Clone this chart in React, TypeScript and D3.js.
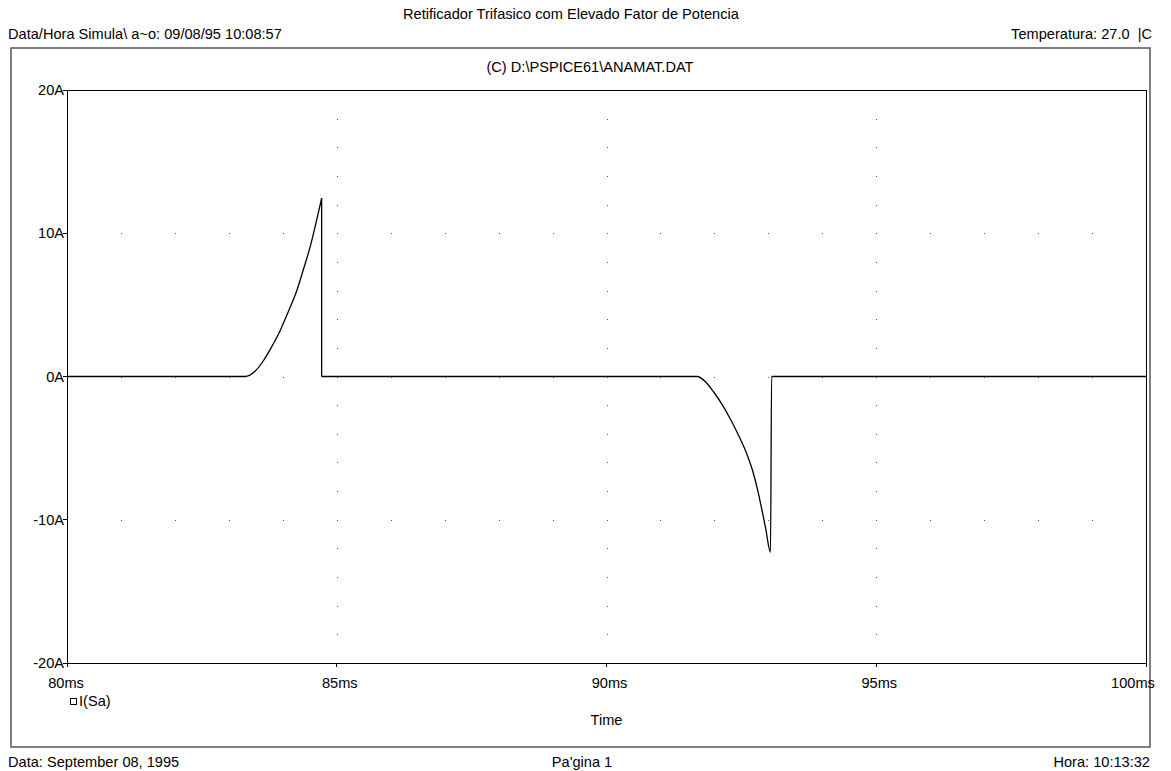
import React from "react";
import * as d3 from "d3";

// PSpice probe trace: I(Sa) vs time
const timeMs = [
  80, 83.3, 83.48, 83.64, 83.79, 83.95, 84.1, 84.26, 84.38, 84.51, 84.62, 84.72, 84.72,
  91.68, 91.83, 91.99, 92.15, 92.3, 92.46, 92.61, 92.71, 92.8, 92.88, 92.95, 93.04, 93.06, 100,
];
const currentA = [
  0, 0, 0.35, 1.1, 2.05, 3.2, 4.5, 6.0, 7.45, 9.1, 10.8, 12.45, 0,
  0, -0.35, -1.1, -2.0, -3.0, -4.2, -5.5, -6.6, -7.9, -9.3, -10.6, -12.27, 0, 0,
];

const xTicks = [80, 85, 90, 95, 100];
const yTicks = [20, 10, 0, -10, -20];
const yTickLabels = ["20A", "10A", "0A", "-10A", "-20A"];

const titleText = "Retificador Trifasico com Elevado Fator de Potencia";
const simText = "Data/Hora Simula\\ a~o: 09/08/95 10:08:57";
const tempText = "Temperatura: 27.0  |C";
const fileText = "(C) D:\\PSPICE61\\ANAMAT.DAT";
const traceName = "I(Sa)";
const xTitle = "Time";
const footerLeft = "Data: September 08, 1995";
const footerMid = "Pa'gina 1";
const footerRight = "Hora: 10:13:32";

const font = "'Liberation Sans', Arial, sans-serif";

export default function App() {
  const width = 1171;
  const height = 771;
  const plot = { left: 67, right: 1146, top: 90, bottom: 663 };

  const x = d3.scaleLinear().domain([80, 100]).range([plot.left, plot.right]);
  const y = d3.scaleLinear().domain([-20, 20]).range([plot.bottom, plot.top]);

  const pts = timeMs.map((t, i) => [t, currentA[i]] as [number, number]);

  // split the trace where it jumps vertically (same time twice)
  const pieces: [number, number][][] = [[]];
  pts.forEach((p, i) => {
    pieces[pieces.length - 1].push(p);
    if (i < pts.length - 1 && pts[i + 1][0] === p[0]) pieces.push([]);
  });

  const smooth = d3
    .line<[number, number]>()
    .x((d) => x(d[0]))
    .y((d) => y(d[1]))
    .curve(d3.curveMonotoneX);

  // dotted grid: rows every 10A dotted each 1ms, columns every 5ms dotted each 2A
  const dots: [number, number][] = [];
  [10, 0, -10].forEach((v) => {
    d3.range(81, 100, 1).forEach((t) => dots.push([t, v]));
  });
  [85, 90, 95].forEach((t) => {
    d3.range(-18, 20, 2).forEach((v) => {
      if (v % 10 !== 0) dots.push([t, v]);
    });
  });

  const xLabelShift = (i: number) => (i === 0 ? -1 : i === xTicks.length - 1 ? -13 : 3);

  return (
    <svg
      width={width}
      height={height}
      style={{ position: "absolute", left: 0, top: 0, background: "#fff" }}
      fontFamily={font}
      fontSize={14.6}
    >
      <rect width={width} height={height} fill="#fff" />
      <text x={571} y={19} textAnchor="middle" fontSize={14.6}>
        {titleText}
      </text>
      <text x={8} y={39}>
        {simText}
      </text>
      <text x={1152} y={39} textAnchor="end" style={{ whiteSpace: "pre" }}>
        {tempText}
      </text>

      {/* outer page frame */}
      <rect x={11} y={48} width={1139} height={699} fill="none" stroke="#555" strokeWidth={1.5} />

      <text x={590} y={72} textAnchor="middle">
        {fileText}
      </text>

      {/* grid dots */}
      <g fill="#555">
        {dots.map((d, i) => (
          <rect key={i} x={Math.round(x(d[0]))} y={Math.round(y(d[1]))} width={1} height={1} />
        ))}
      </g>

      {/* plot frame */}
      <rect
        x={plot.left}
        y={plot.top}
        width={plot.right - plot.left}
        height={plot.bottom - plot.top}
        fill="none"
        stroke="#000"
        strokeWidth={1}
        shapeRendering="crispEdges"
      />

      {/* y ticks */}
      {yTicks.map((v, i) => (
        <g key={v}>
          <line x1={plot.left - 4} x2={plot.left} y1={y(v)} y2={y(v)} stroke="#000" shapeRendering="crispEdges" />
          <text x={plot.left - 3} y={y(v) + 5} textAnchor="end">
            {yTickLabels[i]}
          </text>
        </g>
      ))}

      {/* x ticks */}
      {xTicks.map((t, i) => (
        <g key={t}>
          <line x1={x(t)} x2={x(t)} y1={plot.bottom} y2={plot.bottom + 4} stroke="#000" shapeRendering="crispEdges" />
          <text x={x(t) + xLabelShift(i)} y={688} textAnchor="middle">
            {t + "ms"}
          </text>
        </g>
      ))}

      {/* trace */}
      <g fill="none" stroke="#000" strokeWidth={1.3}>
        {pieces.map((pc, i) => (
          <path key={"p" + i} d={smooth(pc) || ""} />
        ))}
        {pieces.slice(1).map((pc, i) => {
          const prev = pieces[i][pieces[i].length - 1];
          return (
            <line key={"j" + i} x1={x(prev[0])} y1={y(prev[1])} x2={x(pc[0][0])} y2={y(pc[0][1])} />
          );
        })}
      </g>

      {/* legend */}
      <rect x={70.5} y={698.5} width={6} height={6} fill="none" stroke="#000" strokeWidth={1} />
      <text x={79} y={706}>
        {traceName}
      </text>

      <text x={x(90)} y={725} textAnchor="middle">
        {xTitle}
      </text>

      {/* footer */}
      <text x={8} y={767}>
        {footerLeft}
      </text>
      <text x={582} y={767} textAnchor="middle">
        {footerMid}
      </text>
      <text x={1150} y={767} textAnchor="end">
        {footerRight}
      </text>
    </svg>
  );
}
